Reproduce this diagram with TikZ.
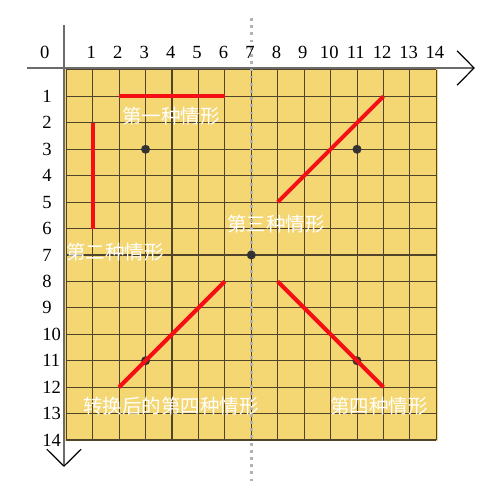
\documentclass[tikz,border=0pt]{standalone}
\usepackage{fontspec}
\setmainfont{Liberation Serif}
\newfontfamily\cjk{Noto Sans CJK SC}
\usetikzlibrary{arrows.meta}
\definecolor{board}{RGB}{244,214,115}
\definecolor{gridline}{RGB}{80,68,42}
\definecolor{segred}{RGB}{245,15,20}

\begin{document}
\begin{tikzpicture}[y=-1cm,
	num/.style={font=\fontsize{20}{20}\selectfont},
	case/.style={text=white, font=\cjk\fontsize{21}{21}\selectfont},
	seg/.style={segred, line width=4.3pt},
	axis/.style={gray!85!black, line width=2pt,
		-{Straight Barb[length=0.64cm, width=1.3cm, black, line width=1.3pt]}}]
	\useasboundingbox (-2.508,-2.648) rectangle (16.41,16.27);

	\fill [board] (-0.09,-0.08) rectangle (14.07,14.05);
	\foreach \i in {0,...,14} {
		\draw [gridline, line width=1.1pt] (\i,0) -- (\i,14);
		\draw [gridline, line width=1.1pt] (0,\i) -- (14,\i);
	}

	\draw [gray!60, line width=3.2pt, dash pattern=on 3.2pt off 4.55pt]
		(7,-1.97) -- (7,15.55);

	\draw [axis] (-1.487,-0.076) -- (15.46,-0.076);
	\draw [axis] (-0.087,-1.70) -- (-0.087,15.02);

	\node [num] (x0) at (-0.81,-0.68) {0};
	\foreach \x in {1,...,14}
		\node [num] (x\x) at (\x-0.05,-0.68) {\x};
	\foreach \y in {1,...,14}
		\node [num, anchor=west] (y\y) at (-1.03,\y) {\y};

	\foreach \p in {(3,3),(11,3),(7,7),(3,11),(11,11)}
		\fill [black!80] \p circle (0.17);

	\draw [seg] (2,1) -- (6,1);
	\draw [seg] (1,2) -- (1,6);
	\draw [seg] (8,5) -- (12,1);
	\draw [seg] (2,12) -- (6,8);
	\draw [seg] (8,8) -- (12,12);

	\node [case] (case1) at (3.96,1.74) {第一种情形};
	\node [case] (case2) at (1.85,6.88) {第二种情形};
	\node [case] (case3) at (7.94,5.82) {第三种情形};
	\node [case] (case4a) at (3.96,12.7) {转换后的第四种情形};
	\node [case] (case4) at (11.83,12.7) {第四种情形};
\end{tikzpicture}
\end{document}
